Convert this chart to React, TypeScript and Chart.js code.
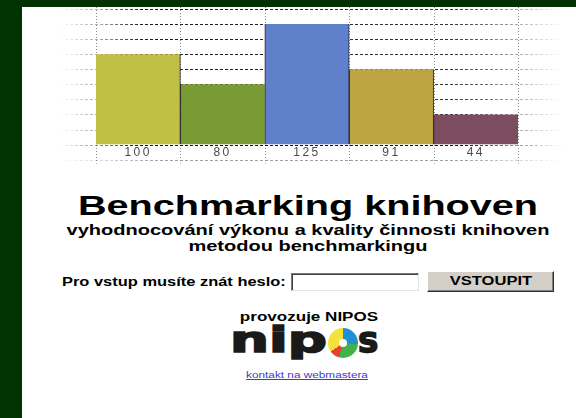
import React, { useEffect, useRef } from "react";
import { Chart, registerables } from "chart.js";

Chart.register(...registerables);

// ---- data ----
const categories = ["100", "80", "125", "91", "44"];
const barHeights = [6, 4, 8, 5, 2];
const barColors = ["#bfbe45", "#7a9a34", "#6080cc", "#bea544", "#7c4c60"];
const gridMax = 9;

const FONT = '"Liberation Sans", Arial, sans-serif';

const fadeGrid = {
  id: "fadeGrid",
  beforeDraw(chart: any) {
    (chart.ctx as any).letterSpacing = "2.5px";
  },
  beforeDatasetsDraw(chart: any) {
    const { ctx, chartArea, scales } = chart;
    const x = scales.x;
    const y = scales.y;
    const l = chartArea.left - 36;
    const r = chartArea.right + 45;
    ctx.save();
    const g = ctx.createLinearGradient(l, 0, r, 0);
    g.addColorStop(0, "rgba(30,30,30,0)");
    g.addColorStop(0.08, "rgba(30,30,30,0.4)");
    g.addColorStop(0.16, "rgba(30,30,30,1)");
    g.addColorStop(0.78, "rgba(30,30,30,0.9)");
    g.addColorStop(1, "rgba(30,30,30,0)");
    ctx.strokeStyle = g;
    ctx.lineWidth = 1;
    ctx.setLineDash([3, 2]);
    for (let v = 1; v <= gridMax; v++) {
      const py = Math.round(y.getPixelForValue(v)) + 0.5;
      ctx.beginPath();
      ctx.moveTo(l, py);
      ctx.lineTo(r, py);
      ctx.stroke();
    }
    // vertical dotted boundaries
    const step = x.getPixelForValue(1) - x.getPixelForValue(0);
    const start = x.getPixelForValue(0) - step / 2;
    ctx.setLineDash([1, 2]);
    ctx.strokeStyle = "#8a8a8a";
    for (let i = 0; i <= categories.length; i++) {
      const px = Math.round(start + i * step) + 0.5;
      ctx.beginPath();
      ctx.moveTo(px, 7);
      ctx.lineTo(px, chartArea.bottom + 19);
      ctx.stroke();
    }
    ctx.restore();
  },
  afterDatasetsDraw(chart: any) {
    const { ctx, chartArea, scales } = chart;
    const y = scales.y;
    const l = chartArea.left - 36;
    const r = chartArea.right + 45;
    ctx.save();
    const g = ctx.createLinearGradient(l, 0, r, 0);
    g.addColorStop(0, "rgba(20,20,20,0)");
    g.addColorStop(0.1, "rgba(20,20,20,0.6)");
    g.addColorStop(0.16, "rgba(20,20,20,1)");
    g.addColorStop(0.8, "rgba(20,20,20,1)");
    g.addColorStop(1, "rgba(20,20,20,0)");
    ctx.strokeStyle = g;
    ctx.setLineDash([3, 2]);
    const p0 = Math.round(y.getPixelForValue(0)) + 0.5;
    ctx.beginPath();
    ctx.moveTo(l, p0);
    ctx.lineTo(r, p0);
    ctx.stroke();
    const g2 = ctx.createLinearGradient(l, 0, r, 0);
    g2.addColorStop(0, "rgba(120,120,120,0)");
    g2.addColorStop(0.2, "rgba(120,120,120,0.7)");
    g2.addColorStop(0.8, "rgba(120,120,120,0.7)");
    g2.addColorStop(1, "rgba(120,120,120,0)");
    ctx.strokeStyle = g2;
    ctx.beginPath();
    ctx.moveTo(l, p0 + 15);
    ctx.lineTo(r, p0 + 15);
    ctx.stroke();
    ctx.restore();
  },
  afterDraw(chart: any) {
    (chart.ctx as any).letterSpacing = "0px";
  },
};

function BarChart() {
  const ref = useRef<HTMLCanvasElement>(null);
  useEffect(() => {
    if (!ref.current) return;
    const chart = new Chart(ref.current, {
      type: "bar",
      data: {
        labels: categories,
        datasets: [
          {
            data: barHeights,
            backgroundColor: barColors,
            borderColor: "#262626",
            borderWidth: [
              { left: 0, right: 1, top: 0, bottom: 0 },
              { left: 1, right: 0, top: 0, bottom: 0 },
              { left: 1, right: 1, top: 0, bottom: 0 },
              { left: 1, right: 1, top: 0, bottom: 0 },
              { left: 1, right: 0, top: 0, bottom: 0 },
            ] as any,
            borderSkipped: false,
            barPercentage: 1,
            categoryPercentage: 1,
          },
        ],
      },
      options: {
        animation: false,
        responsive: true,
        maintainAspectRatio: false,
        layout: { padding: { left: 96, right: 58, top: 9, bottom: 9 } },
        plugins: { legend: { display: false }, tooltip: { enabled: false } },
        scales: {
          x: {
            grid: { display: false, drawTicks: false, tickLength: 0 },
            border: { display: false },
            ticks: {
              padding: 1,
              color: "#4a4a4a",
              font: { family: FONT, size: 12 },
            },
          },
          y: { display: false, min: 0, max: gridMax },
        },
      },
      plugins: [fadeGrid],
    });
    return () => chart.destroy();
  }, []);
  return (
    <div style={{ position: "absolute", left: 0, top: 0, width: 576, height: 170 }}>
      <canvas ref={ref} />
    </div>
  );
}

function Line(props: {
  top: number;
  size: number;
  text: string;
  cx?: number;
  sx?: number;
  bold?: boolean;
}) {
  const { top, size, text, cx = 308, sx = 1.42, bold = true } = props;
  return (
    <div
      style={{
        position: "absolute",
        left: cx - 400,
        width: 800,
        top,
        fontSize: size,
        lineHeight: size + "px",
        textAlign: "center",
        fontWeight: bold ? 700 : 400,
        fontFamily: FONT,
        transform: `scaleX(${sx})`,
        transformOrigin: "400px 0",
        whiteSpace: "nowrap",
        color: "#000",
      }}
    >
      {text}
    </div>
  );
}

const logoText: React.CSSProperties = {
  position: "absolute",
  top: 322,
  fontFamily: '"DejaVu Sans", sans-serif',
  fontWeight: 700,
  fontSize: 36,
  lineHeight: "36px",
  color: "#1a1a1a",
  WebkitTextStroke: "1.6px #1a1a1a",
  whiteSpace: "nowrap",
  transformOrigin: "0 0",
};

export default function App() {
  return (
    <div
      style={{
        position: "fixed",
        left: 0,
        top: 0,
        width: 576,
        height: 418,
        background: "#003300",
        overflow: "hidden",
        fontFamily: FONT,
      }}
    >
      <div style={{ position: "absolute", left: 22, top: 7, width: 554, height: 411, background: "#fff" }} />
      <BarChart />
      <Line top={192} size={28} text="Benchmarking knihoven" sx={1.415} />
      <Line top={223} size={14} text="vyhodnocování výkonu a kvality činnosti knihoven" sx={1.43} />
      <Line top={239} size={14} text="metodou benchmarkingu" sx={1.43} />
      <div
        style={{
          position: "absolute",
          left: 62,
          top: 276,
          fontSize: 12,
          lineHeight: "12px",
          fontWeight: 700,
          whiteSpace: "nowrap",
          transform: "scaleX(1.37)",
          transformOrigin: "0 0",
        }}
      >
        Pro vstup musíte znát heslo:
      </div>
      <div
        style={{
          position: "absolute",
          left: 291,
          top: 273,
          width: 128,
          height: 18,
          boxSizing: "border-box",
          border: "1px solid",
          borderColor: "#7a7a7a #e4e4e4 #e4e4e4 #7a7a7a",
          boxShadow: "inset 1px 1px 0 #404040",
          background: "#fff",
        }}
      />
      <div
        style={{
          position: "absolute",
          left: 427,
          top: 271,
          width: 127,
          height: 21,
          boxSizing: "border-box",
          border: "1px solid",
          borderColor: "#ffffff #303030 #303030 #ffffff",
          boxShadow: "inset -1px -1px 0 #808080",
          background: "#d4d0c8",
          textAlign: "center",
          fontSize: 12,
          lineHeight: "19px",
          fontWeight: 700,
          color: "#000",
        }}
      >
        <span style={{ display: "inline-block", transform: "scaleX(1.38)" }}>VSTOUPIT</span>
      </div>
      <Line top={311} size={12} text="provozuje NIPOS" cx={309} sx={1.42} />
      <div style={{ ...logoText, left: 230, letterSpacing: "0px", transform: "scaleX(1.52)" }}>nip</div>
      <div
        style={{
          position: "absolute",
          left: 328,
          top: 328,
          width: 30,
          height: 30,
          borderRadius: "50%",
          background:
            "conic-gradient(#1f8fd6 0deg 95deg, #3fb24a 95deg 195deg, #e8402e 195deg 235deg, #f3e23a 235deg 360deg)",
        }}
      >
        <div
          style={{
            position: "absolute",
            left: 11,
            top: 11,
            width: 8,
            height: 8,
            borderRadius: "50%",
            background: "#fff",
          }}
        />
      </div>
      <div style={{ ...logoText, left: 358, transform: "scaleX(0.95)" }}>s</div>
      <div
        style={{
          position: "absolute",
          left: 307 - 200,
          width: 400,
          top: 371,
          fontSize: 8.3,
          lineHeight: "8.3px",
          textAlign: "center",
          color: "#3b3bd0",
          textDecoration: "underline",
          transform: "scaleX(1.42)",
          transformOrigin: "200px 0",
          whiteSpace: "nowrap",
        }}
      >
        kontakt na webmastera
      </div>
    </div>
  );
}
